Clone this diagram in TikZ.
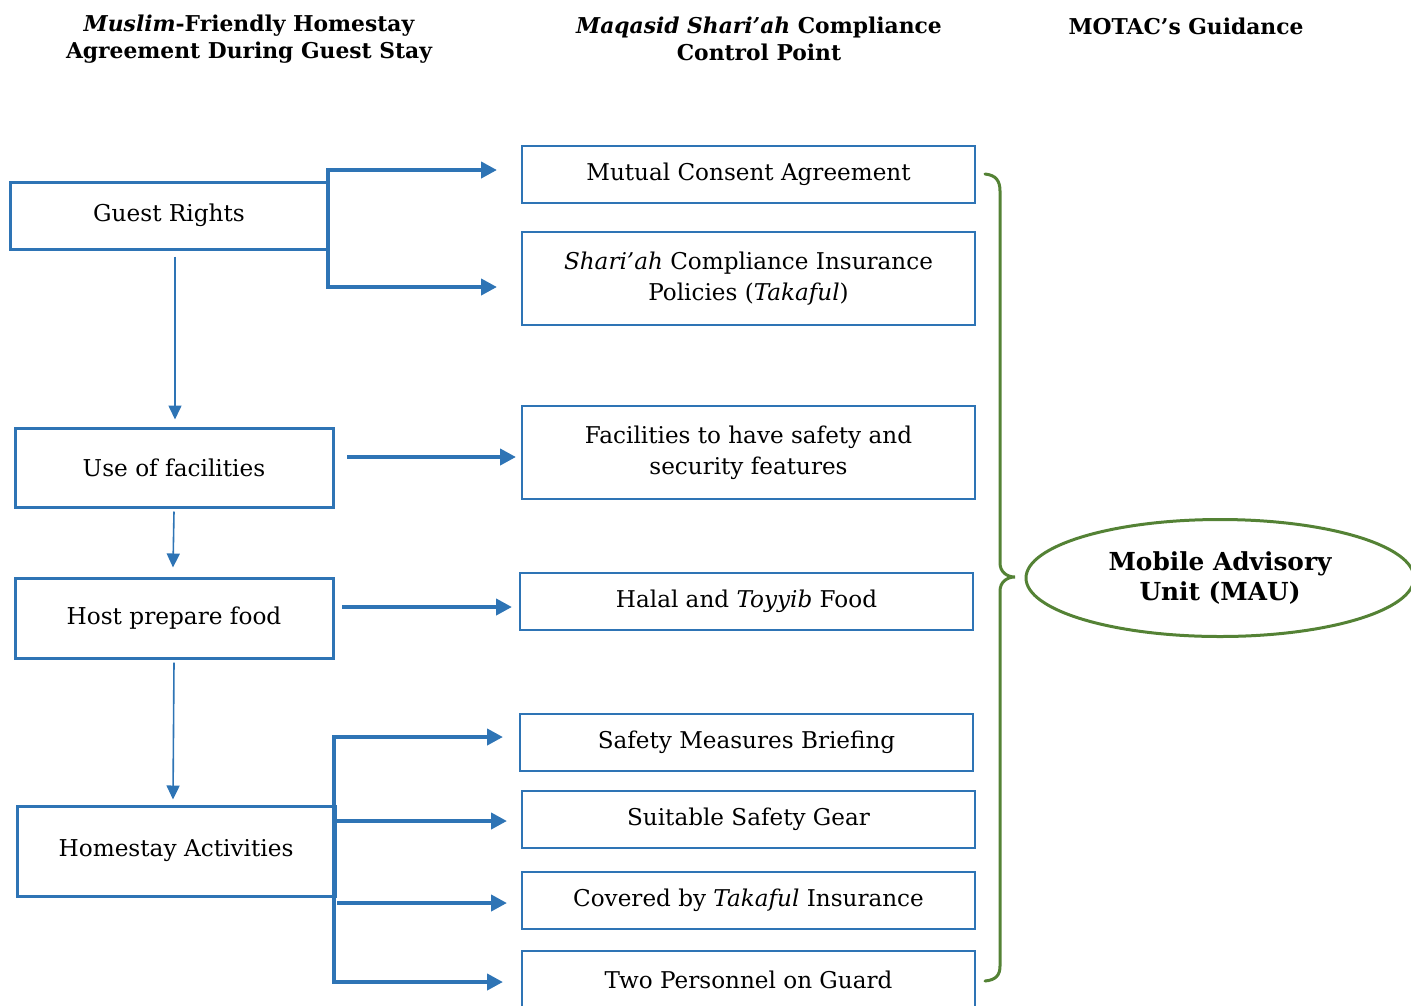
\documentclass[tikz,border=0pt]{standalone}
\usepackage{fontspec}
\setmainfont{DejaVu Serif}
\usetikzlibrary{arrows.meta,shapes.geometric,calc}
\definecolor{cblue}{RGB}{46,116,181}
\definecolor{cgreen}{RGB}{84,130,53}
\begin{document}
\begin{tikzpicture}[x=1pt,y=-1pt,
  lbox/.style={draw=cblue,line width=3pt,minimum width=318pt,inner sep=0pt,align=center,font=\fontsize{23.2}{30}\selectfont},
  rbox/.style={draw=cblue,line width=2pt,minimum width=453pt,inner sep=0pt,align=center,font=\fontsize{23.1}{31}\selectfont},
  tipbig/.tip={Triangle[length=16pt,width=16pt]},
  tipsm/.tip={Triangle[length=14pt,width=13pt]},
  conn/.style={draw=cblue,line width=4pt,-tipbig},
  connb/.style={draw=cblue,line width=4pt,tipbig-tipbig,line join=miter},
  thinarr/.style={draw=cblue,line width=1.6pt,-tipsm},
  hdr/.style={font=\bfseries\fontsize{21.8}{27}\selectfont,align=center}]
\path[use as bounding box] (0,0) rectangle (1411,1005);
\clip (0,0) rectangle (1411,1005);

% headers
\node[hdr] (h1) at (249,39) {\textit{Muslim}-Friendly Homestay\\Agreement During Guest Stay};
\node[hdr] (h2) at (759,39) {\textit{Maqasid Shari’ah} Compliance\\Control Point};
\node[hdr] (h3) at (1186,26) {MOTAC’s Guidance};

% left boxes
\node[lbox,minimum height=67pt] (gr) at (169,215.5) {Guest Rights};
\node[lbox,minimum height=79pt] (uf) at (174,467.5) {Use of facilities};
\node[lbox,minimum height=80pt] (hp) at (174,618) {Host prepare food};
\node[lbox,minimum height=90pt] (ha) at (176,851) {Homestay Activities};

% right boxes
\node[rbox,minimum height=57pt] (m1) at (748.5,174.5) {Mutual Consent Agreement};
\node[rbox,minimum height=93pt] (m2) at (748.5,278.5) {\textit{Shari’ah} Compliance Insurance\\Policies (\textit{Takaful})};
\node[rbox,minimum height=93pt] (m3) at (748.5,452.5) {Facilities to have safety and\\security features};
\node[rbox,minimum height=57pt] (m4) at (746.5,601.5) {Halal and \textit{Toyyib} Food};
\node[rbox,minimum height=57pt] (m5) at (746.5,742.5) {Safety Measures Briefing};
\node[rbox,minimum height=57pt] (m6) at (748.5,819.5) {Suitable Safety Gear};
\node[rbox,minimum height=57pt] (m7) at (748.5,900.5) {Covered by \textit{Takaful} Insurance};
\node[rbox,minimum height=62pt] (m8) at (748.5,982) {};
\node (m8t) at (748.5,980) {\fontsize{23.1}{31}\selectfont Two Personnel on Guard};

% MAU ellipse
\node[ellipse,draw=cgreen,line width=3pt,minimum width=388pt,minimum height=117pt,inner sep=0pt,align=center,font=\bfseries\fontsize{24.8}{30}\selectfont] (mau) at (1220,578) {Mobile Advisory\\Unit (MAU)};

% connector coordinates
\coordinate (ga) at (497,170);
\coordinate (gb) at (497,287);
\coordinate (ufa) at (347,457);
\coordinate (ufb) at (516,457);
\coordinate (hpa) at (342,607);
\coordinate (hpb) at (512,607);
\coordinate (aa) at (503,737);
\coordinate (ab) at (507,821);
\coordinate (ac) at (507,903);
\coordinate (ad) at (503,982);
\coordinate (ab0) at (337,821);
\coordinate (ac0) at (337,903);

% guest rights bracket
\draw[connb] (ga) -- (328,170) -- (328,287) -- (gb);
% homestay bracket
\draw[connb] (aa) -- (334,737) -- (334,982) -- (ad);
\draw[conn] (ab0) -- (ab);
\draw[conn] (ac0) -- (ac);
% single arrows
\draw[conn] (ufa) -- (ufb);
\draw[conn] (hpa) -- (hpb);

% vertical arrows
\draw[thinarr] ($(gr.south)+(6,6)$) -- ($(uf.north)+(1,-7)$);
\draw[thinarr] ($(uf.south)+(0,3)$) -- ($(hp.north)+(-1,-9)$);
\draw[thinarr] ($(hp.south)+(0,3)$) -- ($(ha.north)+(-3,-5)$);

% green brace
\draw[cgreen,line width=3pt,line cap=round]
  (985,174) .. controls (996,175) and (1000,181) .. (1000,191)
  -- (1000,563) .. controls (1000,572) and (1007,577) .. (1015,577)
  .. controls (1007,577) and (1000,582) .. (1000,591)
  -- (1000,966) .. controls (1000,975) and (996,980) .. (985,981);
\end{tikzpicture}
\end{document}
